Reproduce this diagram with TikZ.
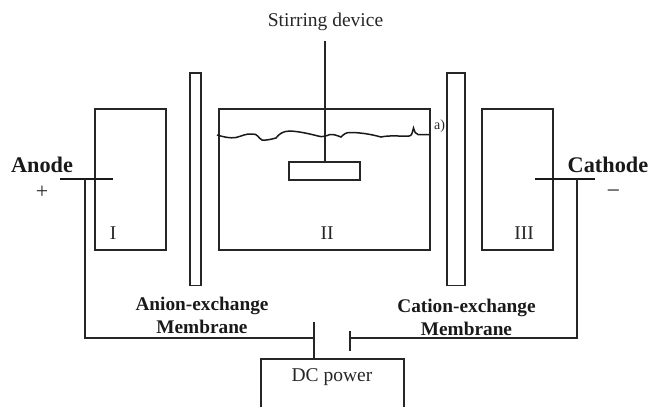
\documentclass[tikz,border=0pt]{standalone}
\usepackage{fontspec}
\setmainfont{Liberation Serif}
\tikzset{
  boxline/.style={draw=black!85, line width=1.2pt},
  wire/.style={draw=black!85, line width=1.2pt},
  electrode/.style={draw=black!90, line width=2.8pt},
  label/.style={inner sep=0pt, text=black!85, font=\fontsize{19.5}{22}\selectfont},
  biglabel/.style={inner sep=0pt, align=center, text=black!90, font=\fontsize{19.3}{23}\selectfont\bfseries},
  elabel/.style={inner sep=0pt, text=black!90, font=\fontsize{22.3}{24}\selectfont\bfseries},
}
\begin{document}
\begin{tikzpicture}[x=1pt,y=-1pt]
\useasboundingbox (0,0) rectangle (651,407);
\draw[boxline] (95,109) rectangle (166,250);
\draw[boxline] (218.9,109) rectangle (430,250);
\draw[boxline] (482,109) rectangle (553,250);
\draw[boxline] (190,73) rectangle (201,285.5);
\draw[boxline] (447,73) rectangle (465,285.5);
\draw[boxline] (289,162) rectangle (360,180);
% DC box, open at the bottom
\draw[boxline] (261,407) -- (261,359) -- (404,359) -- (404,407);
% stirrer
\coordinate (st) at (325,41);
\coordinate (sb) at (325,162);
\draw[wire] (st) -- (sb);
% liquid level
\draw[line width=1.5pt, black!90] (217,135) .. controls (224,137) and (230,138.5) .. (236,137.5)
  .. controls (242,136) and (246,133.5) .. (252,134) .. controls (258,133.5) and (258,138) .. (262,140)
  .. controls (267,140.5) and (272,139) .. (276,138) .. controls (279,134) and (283,131) .. (290,131)
  .. controls (300,131.5) and (310,134) .. (318,136) .. controls (322,137.5) and (326,136) .. (330,134.5)
  .. controls (334,134) and (338,136) .. (341,137) .. controls (344,134) and (346,132.5) .. (350,132.5)
  .. controls (360,132.5) and (370,134) .. (381,137) .. controls (390,135) and (400,136.5) .. (409,136)
  .. controls (412,136) and (412,133) .. (413.5,128) .. controls (415,132) and (415,134) .. (418,134.5)
  -- (429,134.5);
% electrodes and wires
\coordinate (aL) at (60,179); \coordinate (aR) at (113,179);
\coordinate (cL) at (535,179); \coordinate (cR) at (595,179);
\coordinate (aT) at (85,179); \coordinate (aB) at (85,338);
\coordinate (cT) at (577,179); \coordinate (cB) at (577,338);
\coordinate (p1t) at (314,322); \coordinate (p1j) at (314,338); \coordinate (p1b) at (314,359);
\coordinate (p2t) at (350,331); \coordinate (p2j) at (350,338); \coordinate (p2b) at (350,351);
\draw[electrode] (aL) -- (aR);
\draw[electrode] (cL) -- (cR);
\draw[wire] (aT) -- (aB) -- (p1j);
\draw[wire] (cT) -- (cB) -- (p2j);
\draw[wire] (p1t) -- (p1b);
\draw[wire] (p2t) -- (p2b);
% labels
\node[label] (tstir) at (325.5,22) {Stirring device};
\node[label, font=\fontsize{14}{16}\selectfont] (ta) at (439.5,126.5) {a)};
\node[label] (tI) at (113,233) {I};
\node[label] (tII) at (327,233) {II};
\node[label] (tIII) at (524,233) {III};
\node[label] (tdc) at (332,377) {DC power};
\node[elabel] (tanode) at (42,165) {Anode};
\node[elabel] (tcathode) at (608,165) {Cathode};
\node[label, font=\fontsize{22}{24}\selectfont] (tplus) at (42,192.5) {+};
\node[label, font=\fontsize{24}{24}\selectfont] (tminus) at (613.5,194) {−};
\node[biglabel] (tan) at (202,315.5) {Anion-exchange\\Membrane};
\node[biglabel] (tcat) at (466.5,317.5) {Cation-exchange\\Membrane};
\end{tikzpicture}
\end{document}
